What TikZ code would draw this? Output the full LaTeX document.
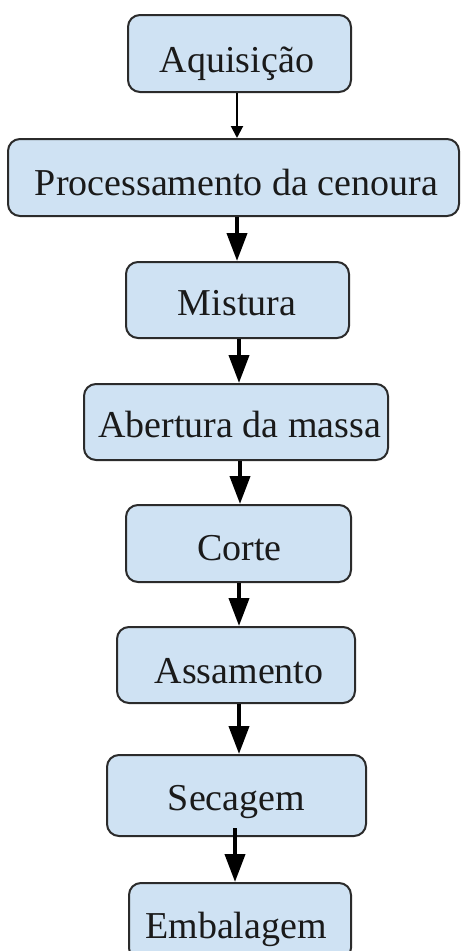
\documentclass[tikz,border=0pt]{standalone}
\usepackage{fontspec}
\setmainfont{Liberation Serif}
\usetikzlibrary{arrows.meta}
\definecolor{boxfill}{HTML}{CFE2F3}
\definecolor{boxline}{HTML}{2B2B2B}
\definecolor{txt}{HTML}{1A1A1A}
\tikzset{
  stepbox/.style={draw=boxline, fill=boxfill, line width=2pt, rounded corners=12pt, inner sep=0pt},
  steptext/.style={anchor=base, inner sep=0pt, text=txt, font=\fontsize{38}{40}\selectfont},
  thinarrow/.style={line width=2pt, draw=black, -{Triangle[width=12pt,length=12pt]}},
  thickarrow/.style={line width=4pt, draw=black, -{Triangle[width=20pt,length=28pt]}},
}
\begin{document}
\begin{tikzpicture}[x=1pt,y=-1pt]
\useasboundingbox (0,0) rectangle (462,951);
\node[stepbox, minimum width=223pt, minimum height=77pt] (a1) at (239.5,53.5) {};
\node[stepbox, minimum width=451pt, minimum height=77pt] (a2) at (233.5,177.5) {};
\node[stepbox, minimum width=223pt, minimum height=76pt] (a3) at (237.5,300) {};
\node[stepbox, minimum width=304pt, minimum height=76pt] (a4) at (236,422) {};
\node[stepbox, minimum width=225pt, minimum height=77pt] (a5) at (238.5,543.5) {};
\node[stepbox, minimum width=238pt, minimum height=76pt] (a6) at (236,665) {};
\node[stepbox, minimum width=259pt, minimum height=81pt] (a7) at (236.5,795.5) {};
\node[stepbox, minimum width=222pt, minimum height=77pt] (a8) at (240,921.5) {};

\node[steptext] (t1) at (237,72) {Aquisição};
\node[steptext] (t2) at (236.5,195) {Processamento da cenoura};
\node[steptext] (t3) at (237,315) {Mistura};
\node[steptext] (t4) at (239.5,437) {Abertura da massa};
\node[steptext] (t5) at (239.5,560) {Corte};
\node[steptext] (t6) at (239,683) {Assamento};
\node[steptext] (t7) at (236.5,810) {Secagem};
\node[steptext] (t8) at (236,938) {Embalagem};

\draw[thinarrow] ([xshift=-2.5pt]a1.south) -- ([xshift=3.5pt]a2.north);
\draw[thickarrow] ([xshift=3.5pt]a2.south) -- ([xshift=-0.5pt]a3.north);
\draw[thickarrow] ([xshift=1.5pt]a3.south) -- ([xshift=3pt]a4.north);
\draw[thickarrow] ([xshift=4pt]a4.south) -- ([xshift=1.5pt]a5.north);
\draw[thickarrow] ([xshift=0.5pt]a5.south) -- ([xshift=3pt]a6.north);
\draw[thickarrow] ([xshift=3pt]a6.south) -- ([xshift=2.5pt]a7.north);
\draw[thickarrow] ([xshift=-1.5pt,yshift=9pt]a7.south) -- ([xshift=-5pt]a8.north);
\end{tikzpicture}
\end{document}
